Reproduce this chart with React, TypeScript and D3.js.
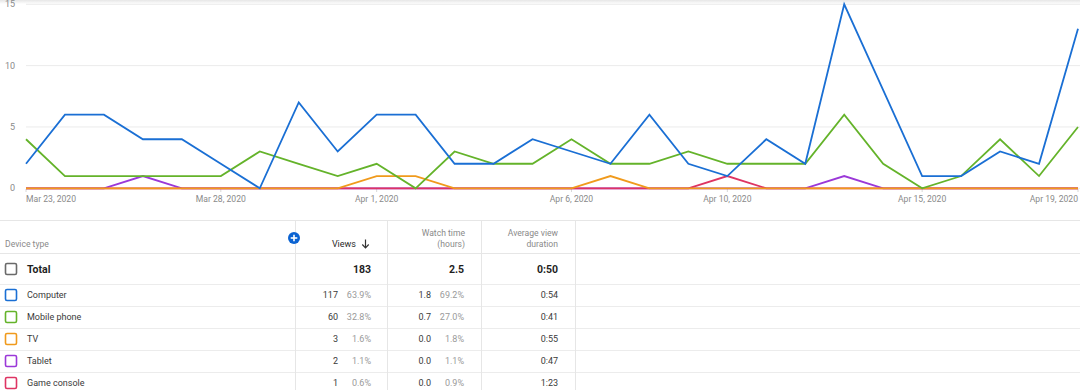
import React from "react";
import * as d3 from "d3";

const dates = [
  "2020-03-23","2020-03-24","2020-03-25","2020-03-26","2020-03-27","2020-03-28","2020-03-29",
  "2020-03-30","2020-03-31","2020-04-01","2020-04-02","2020-04-03","2020-04-04","2020-04-05",
  "2020-04-06","2020-04-07","2020-04-08","2020-04-09","2020-04-10","2020-04-11","2020-04-12",
  "2020-04-13","2020-04-14","2020-04-15","2020-04-16","2020-04-17","2020-04-18","2020-04-19",
];

const computer = [2,6,6,4,4,2,0,7,3,6,6,2,2,4,3,2,6,2,1,4,2,15,8,1,1,3,2,13];
const mobile   = [4,1,1,1,1,1,3,2,1,2,0,3,2,2,4,2,2,3,2,2,2,6,2,0,1,4,1,5];
const tv       = [0,0,0,0,0,0,0,0,0,1,1,0,0,0,0,1,0,0,0,0,0,0,0,0,0,0,0,0];
const tablet   = [0,0,0,1,0,0,0,0,0,0,0,0,0,0,0,0,0,0,0,0,0,1,0,0,0,0,0,0];
const consoleV = [0,0,0,0,0,0,0,0,0,0,0,0,0,0,0,0,0,0,1,0,0,0,0,0,0,0,0,0];

const yTicks = [0, 5, 10, 15];
const xTickDates = ["2020-03-23","2020-03-28","2020-04-01","2020-04-06","2020-04-10","2020-04-15","2020-04-19"];

const deviceNames = ["Computer", "Mobile phone", "TV", "Tablet", "Game console"];
const deviceColors = ["#1a6fd4", "#64b32a", "#f09a1c", "#9b38d8", "#de3463"];
const viewsCol = ["117", "60", "3", "2", "1"];
const viewsPct = ["63.9%", "32.8%", "1.6%", "1.1%", "0.6%"];
const watchCol = ["1.8", "0.7", "0.0", "0.0", "0.0"];
const watchPct = ["69.2%", "27.0%", "1.8%", "1.1%", "0.9%"];
const avgCol = ["0:54", "0:41", "0:55", "0:47", "1:23"];
const totals = { views: "183", watch: "2.5", avg: "0:50" };

const seriesValues = [computer, mobile, tv, tablet, consoleV];
const drawOrder = [3, 4, 2, 1, 0];

const W = 1080, H = 390;
const FONT = "Roboto, 'Noto Sans', Arial, sans-serif";

export default function App() {
  const parse = d3.timeParse("%Y-%m-%d");
  const dts = dates.map((d) => parse(d)!);
  const x = d3.scaleTime().domain([dts[0], dts[dts.length - 1]]).range([26, 1078]);
  const y = d3.scaleLinear().domain([0, 15]).range([188.3, 4.3]);
  const fmt = d3.timeFormat("%b %-d, %Y");

  const line = d3
    .line<number>()
    .x((_, i) => x(dts[i]))
    .y((v) => y(v));

  const rowCenters = [295, 317, 339, 361, 383];
  const rowLines = [284, 306, 328, 350, 372];
  const colDividers = [295.5, 387.5, 481.5, 575.5];

  const checkbox = (cy: number, color: string, key: string) => (
    <rect key={key} x={5.5} y={cy - 5.5} width={11} height={11} rx={1.5}
      fill="#fff" stroke={color} strokeWidth={1.6} />
  );

  return (
    <svg width={W} height={H} style={{ position: "absolute", left: 0, top: 0, display: "block", background: "#fff" }}
      fontFamily={FONT}>
      <defs>
        <linearGradient id="topShade" x1="0" y1="0" x2="0" y2="1">
          <stop offset="0" stopColor="#e6e6e6" />
          <stop offset="1" stopColor="#ffffff" />
        </linearGradient>
      </defs>
      <rect x={0} y={0} width={W} height={4} fill="url(#topShade)" />

      {/* gridlines */}
      {yTicks.map((t) => (
        <line key={"g" + t} x1={26} x2={W} y1={y(t)} y2={y(t)} stroke="#ebebeb" strokeWidth={1} />
      ))}
      {yTicks.map((t) => (
        <text key={"yl" + t} x={15} y={y(t)} dy="0.35em" textAnchor="end" fontSize={9} fill="#8a8a8a">
          {t}
        </text>
      ))}

      {/* x ticks */}
      {xTickDates.map((s, i) => {
        const d = parse(s)!;
        const xx = x(d);
        const anchor = i === 0 ? "start" : i === xTickDates.length - 1 ? "end" : "middle";
        return (
          <g key={"xt" + s}>
            <line x1={xx} x2={xx} y1={189} y2={192} stroke="#d8d8d8" />
            <text x={xx} y={199} dy="0.35em" textAnchor={anchor} fontSize={8.6} fill="#8a8a8a">
              {fmt(d)}
            </text>
          </g>
        );
      })}

      {/* lines */}
      {drawOrder.map((si) => (
        <path key={"s" + si} d={line(seriesValues[si]) || ""} fill="none"
          stroke={deviceColors[si]} strokeWidth={1.8} strokeLinejoin="miter" />
      ))}

      {/* table */}
      <line x1={0} x2={W} y1={220.5} y2={220.5} stroke="#e6e6e6" />
      <line x1={0} x2={W} y1={253.5} y2={253.5} stroke="#e6e6e6" />
      {rowLines.map((ly) => (
        <line key={"rl" + ly} x1={0} x2={W} y1={ly + 0.5} y2={ly + 0.5} stroke="#ececec" />
      ))}
      {colDividers.map((cx) => (
        <line key={"cd" + cx} x1={cx} x2={cx} y1={221} y2={H} stroke="#e6e6e6" />
      ))}

      <text x={5} y={244} dy="0.35em" fontSize={8.6} fill="#8a8a8a">Device type</text>

      <circle cx={294} cy={238} r={6} fill="#0b63d2" />
      <line x1={290.7} x2={297.3} y1={238} y2={238} stroke="#fff" strokeWidth={1.6} />
      <line x1={294} x2={294} y1={234.7} y2={241.3} stroke="#fff" strokeWidth={1.6} />

      <text x={356} y={244} dy="0.35em" textAnchor="end" fontSize={9} fill="#2a2a2a">Views</text>
      <line x1={365.5} x2={365.5} y1={239.5} y2={247.5} stroke="#333" strokeWidth={1.2} />
      <path d="M362.3,244.5 L365.5,247.8 L368.7,244.5" fill="none" stroke="#333" strokeWidth={1.2} />

      <text x={465} y={233} dy="0.35em" textAnchor="end" fontSize={8.6} fill="#8a8a8a">Watch time</text>
      <text x={465} y={244} dy="0.35em" textAnchor="end" fontSize={8.6} fill="#8a8a8a">(hours)</text>
      <text x={558} y={233} dy="0.35em" textAnchor="end" fontSize={8.6} fill="#8a8a8a">Average view</text>
      <text x={558} y={244} dy="0.35em" textAnchor="end" fontSize={8.6} fill="#8a8a8a">duration</text>

      {/* Total row */}
      {checkbox(269, "#6a6a6a", "cbt")}
      <text x={27} y={269} dy="0.35em" fontSize={10.5} fontWeight={700} fill="#1f1f1f">Total</text>
      <text x={371} y={269} dy="0.35em" textAnchor="end" fontSize={10.5} fontWeight={700} fill="#1f1f1f">{totals.views}</text>
      <text x={464} y={269} dy="0.35em" textAnchor="end" fontSize={10.5} fontWeight={700} fill="#1f1f1f">{totals.watch}</text>
      <text x={558} y={269} dy="0.35em" textAnchor="end" fontSize={10.5} fontWeight={700} fill="#1f1f1f">{totals.avg}</text>

      {deviceNames.map((name, i) => {
        const cy = rowCenters[i];
        return (
          <g key={"row" + name}>
            {checkbox(cy, deviceColors[i], "cb" + i)}
            <text x={27} y={cy} dy="0.35em" fontSize={9} fill="#3a3a3a">{name}</text>
            <text x={338} y={cy} dy="0.35em" textAnchor="end" fontSize={9} fill="#3a3a3a">{viewsCol[i]}</text>
            <text x={371} y={cy} dy="0.35em" textAnchor="end" fontSize={9} fill="#9a9a9a">{viewsPct[i]}</text>
            <text x={431} y={cy} dy="0.35em" textAnchor="end" fontSize={9} fill="#3a3a3a">{watchCol[i]}</text>
            <text x={464} y={cy} dy="0.35em" textAnchor="end" fontSize={9} fill="#9a9a9a">{watchPct[i]}</text>
            <text x={558} y={cy} dy="0.35em" textAnchor="end" fontSize={9} fill="#3a3a3a">{avgCol[i]}</text>
          </g>
        );
      })}
    </svg>
  );
}
